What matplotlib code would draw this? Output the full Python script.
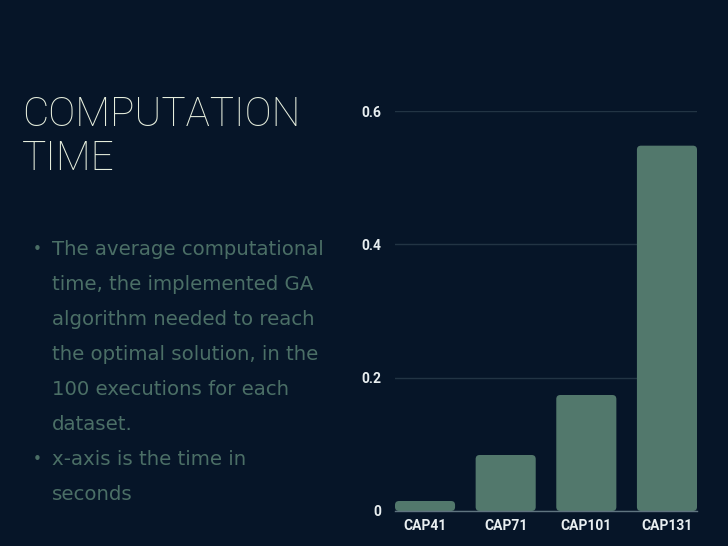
import matplotlib
matplotlib.use("Agg")
import matplotlib.pyplot as plt
from matplotlib.patches import FancyBboxPatch

categories = ["CAP41", "CAP71", "CAP101", "CAP131"]
values = [0.015, 0.084, 0.174, 0.548]
yticks = [0, 0.2, 0.4, 0.6]
ytick_labels = ["0", "0.2", "0.4", "0.6"]

title_lines = ["COMPUTATION", "TIME"]
body_lines = [
    ("•", "The average computational"),
    ("", "time, the implemented GA"),
    ("", "algorithm needed to reach"),
    ("", "the optimal solution, in the"),
    ("", "100 executions for each"),
    ("", "dataset."),
    ("•", "x-axis is the time in"),
    ("", "seconds"),
]

BG = "#061528"
BAR = "#52786c"
TITLE = "#e6eedd"
BODY = "#4b6f66"
TICK = "#e8eef0"

W, H = 728, 546
fig = plt.figure(figsize=(W / 100, H / 100), dpi=100, facecolor=BG)

# Title
fig.text(22 / W, 1 - 115 / H, title_lines[0], color=TITLE, fontsize=29.2,
         family="Roboto", fontweight="light", va="center", ha="left")
fig.text(22 / W, 1 - 159 / H, title_lines[1], color=TITLE, fontsize=29.2,
         family="Roboto", fontweight="light", va="center", ha="left")

# Body
y0, dy = 250, 34.9
for i, (bullet, line) in enumerate(body_lines):
    y = y0 + i * dy
    if bullet:
        fig.text(33 / W, 1 - y / H, bullet, color=BODY, fontsize=11,
                 family="DejaVu Sans", va="center", ha="left")
    fig.text(52 / W, 1 - y / H, line, color=BODY, fontsize=14.2,
             family="DejaVu Sans", va="center", ha="left")

# Chart
ax = fig.add_axes([395 / W, 1 - 511 / H, (697 - 395) / W, (511 - 111) / H])
ax.set_facecolor(BG)
width = 0.745
x = list(range(len(categories)))
ax.bar(x, values, width=width, color=BAR, alpha=0)  # for scale
for xi, v in zip(x, values):
    p = FancyBboxPatch((xi - width / 2, 0), width, v,
                       boxstyle="round,pad=0,rounding_size=0.05",
                       mutation_aspect=0.6 / 3.75 * (697 - 395) / (511 - 111),
                       facecolor=BAR, edgecolor="none", zorder=3)
    ax.add_patch(p)
ax.set_xlim(-width / 2, len(categories) - 1 + width / 2)
ax.set_ylim(0, 0.6)
ax.set_yticks(yticks)
ax.set_yticklabels(ytick_labels)
ax.set_xticks(x)
ax.set_xticklabels(categories)
for sp in ["top", "right", "left"]:
    ax.spines[sp].set_visible(False)
ax.spines["bottom"].set_color("#5f7480")
ax.spines["bottom"].set_linewidth(1)
ax.spines["bottom"].set_zorder(4)
ax.grid(axis="y", color="#223444", linewidth=1)
ax.set_axisbelow(True)
ax.tick_params(axis="both", length=0, colors=TICK, labelsize=10)
ax.tick_params(axis="y", pad=10)
ax.tick_params(axis="x", pad=6)
for lab in ax.get_xticklabels() + ax.get_yticklabels():
    lab.set_fontweight("bold")
    lab.set_family("Roboto")
    lab.set_color(TICK)

fig.savefig("out.png", dpi=100, facecolor=BG)
